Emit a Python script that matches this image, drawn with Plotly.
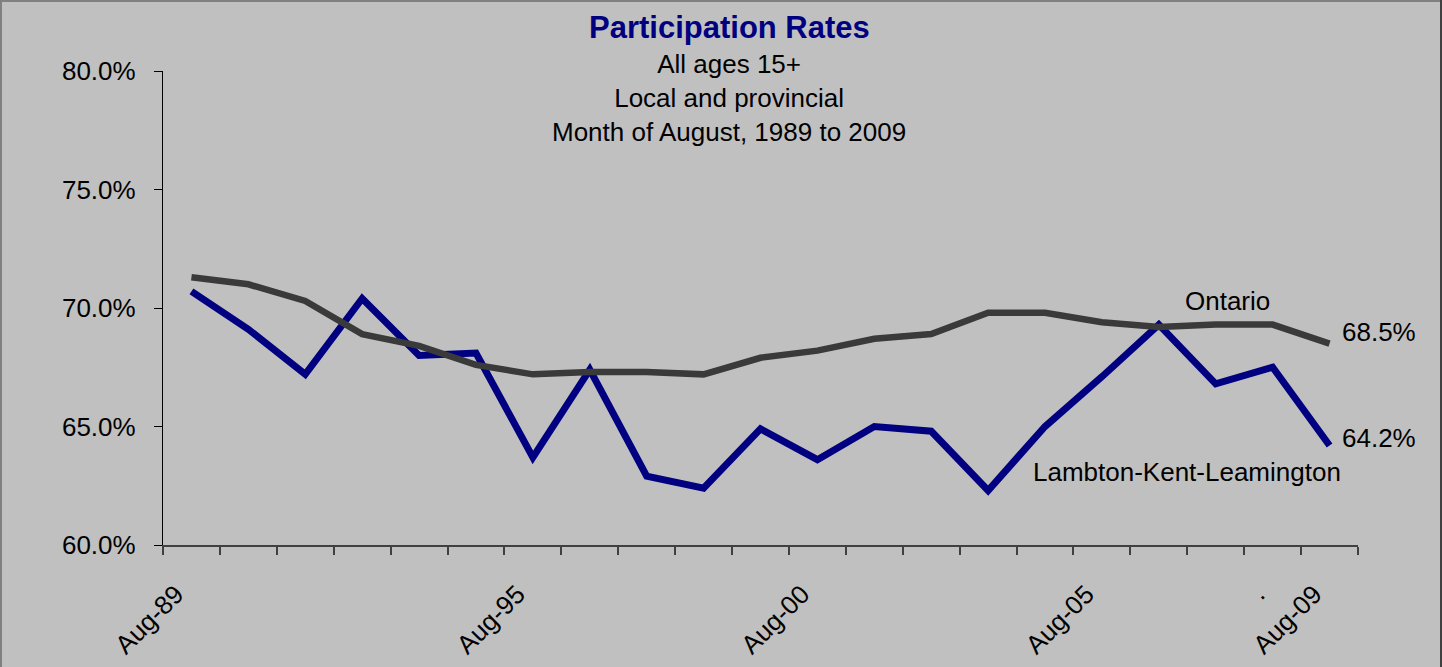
import plotly.graph_objects as go

# ---- data ----
years = list(range(1989, 2010))
tick_positions = [0, 6, 11, 16, 19, 20]
tick_labels = ["Aug-89", "Aug-95", "Aug-00", "Aug-05", ".", "Aug-09"]
ontario = [71.3, 71.0, 70.3, 68.9, 68.4, 67.6, 67.2, 67.3, 67.3, 67.2, 67.9,
           68.2, 68.7, 68.9, 69.8, 69.8, 69.4, 69.2, 69.3, 69.3, 68.5]
lambton = [70.7, 69.1, 67.2, 70.4, 68.0, 68.1, 63.7, 67.4, 62.9, 62.4, 64.9,
           63.6, 65.0, 64.8, 62.3, 65.0, 67.1, 69.3, 66.8, 67.5, 64.2]
y_ticks = [60, 65, 70, 75, 80]

W, H = 1442, 667
L, R, T, B = 163, 84, 71, 122
FONT = "Liberation Sans, Arial, sans-serif"
BG = "#c0c0c0"
LABEL_SHIFT = 0.27  # angled labels sit a little left of their category centre

x = list(range(len(years)))

fig = go.Figure()
fig.add_trace(go.Scatter(x=x, y=lambton, mode="lines", name="Lambton-Kent-Leamington",
                         line=dict(color="#000080", width=7), hoverinfo="x+y"))
fig.add_trace(go.Scatter(x=x, y=ontario, mode="lines", name="Ontario",
                         line=dict(color="#3a3a3a", width=6.5), hoverinfo="x+y"))

pw = W - L - R
ph = H - T - B
def px2paper_x(px):
    return (px - L) / pw
def px2paper_y(py):
    return (H - B - py) / ph

annotations = [
    dict(text="<b>Participation Rates</b>", x=px2paper_x(729), y=px2paper_y(27),
         xref="paper", yref="paper", showarrow=False, xanchor="center", yanchor="middle",
         font=dict(family=FONT, size=31, color="#000080")),
    dict(text="All ages 15+<br>Local and provincial<br>Month of August, 1989 to 2009",
         x=px2paper_x(729), y=px2paper_y(98), xref="paper", yref="paper", showarrow=False,
         xanchor="center", yanchor="middle", align="center",
         font=dict(family=FONT, size=26, color="#000000")),
    dict(text="Ontario", x=18.21, y=70.3, xref="x", yref="y", showarrow=False,
         xanchor="center", yanchor="middle", font=dict(family=FONT, size=26, color="#000000")),
    dict(text=f"{ontario[-1]:.1f}%", x=20.19, y=69.0, xref="x", yref="y", showarrow=False,
         xanchor="left", yanchor="middle", font=dict(family=FONT, size=26, color="#000000")),
    dict(text=f"{lambton[-1]:.1f}%", x=20.19, y=64.51, xref="x", yref="y", showarrow=False,
         xanchor="left", yanchor="middle", font=dict(family=FONT, size=26, color="#000000")),
    dict(text="Lambton-Kent-Leamington", x=17.49, y=63.07, xref="x", yref="y", showarrow=False,
         xanchor="center", yanchor="middle", font=dict(family=FONT, size=26, color="#000000")),
]

shapes = [
    dict(type="line", xref="paper", yref="paper", x0=px2paper_x(1), x1=px2paper_x(1),
         y0=px2paper_y(0), y1=px2paper_y(H), line=dict(color="#808080", width=2)),
    dict(type="line", xref="paper", yref="paper", x0=px2paper_x(0), x1=px2paper_x(W),
         y0=px2paper_y(1), y1=px2paper_y(1), line=dict(color="#808080", width=2)),
    dict(type="line", xref="paper", yref="paper", x0=px2paper_x(W - 1), x1=px2paper_x(W - 1),
         y0=px2paper_y(0), y1=px2paper_y(H), line=dict(color="#404040", width=2)),
]

fig.update_layout(
    width=W, height=H,
    margin=dict(l=L, r=R, t=T, b=B, pad=0, autoexpand=False),
    paper_bgcolor=BG, plot_bgcolor=BG,
    showlegend=False,
    font=dict(family=FONT, size=26, color="#000000"),
    annotations=annotations,
    shapes=shapes,
    xaxis=dict(
        range=[-0.5, 20.5], showgrid=False, zeroline=False, automargin=False,
        showline=True, linecolor="#404040", linewidth=1.5,
        tickmode="array", tickvals=[p - LABEL_SHIFT for p in tick_positions],
        ticktext=tick_labels,
        ticks="outside", ticklen=22, tickcolor="rgba(0,0,0,0)",
        tickangle=-45, tickfont=dict(family=FONT, size=26, color="#000000"),
        minor=dict(tickmode="linear", tick0=-0.5, dtick=1, ticks="outside",
                   ticklen=8, tickwidth=1.5, tickcolor="#404040", showgrid=False),
        fixedrange=True,
    ),
    yaxis=dict(
        range=[60, 80], showgrid=False, zeroline=False, automargin=False,
        showline=True, linecolor="#000000", linewidth=1.2,
        tickmode="array", tickvals=y_ticks, ticktext=[f"{v:.1f}%" for v in y_ticks],
        ticks="outside", ticklen=8, tickcolor="#000000", tickwidth=1.2,
        ticklabelstandoff=13,
        tickfont=dict(family=FONT, size=26, color="#000000"),
        fixedrange=True,
    ),
)

fig.write_html("out.html", config={"displayModeBar": False},
               post_script="document.body.style.margin='0px';document.body.style.padding='0px';")
